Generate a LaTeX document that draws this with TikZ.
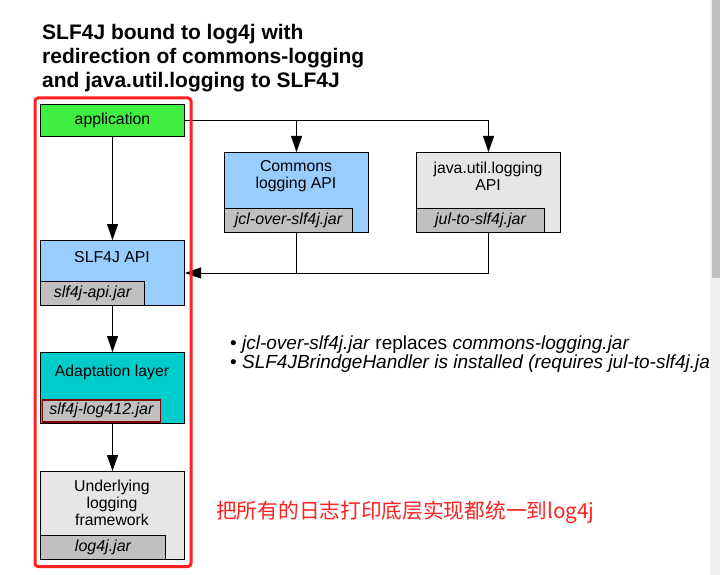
\documentclass[tikz,border=0pt]{standalone}
\usepackage{fontspec}
\setmainfont{Liberation Sans}
\newfontfamily\cjk{Noto Sans CJK SC}
\usetikzlibrary{arrows.meta}
\definecolor{appgreen}{RGB}{64,238,64}
\definecolor{apiblue}{RGB}{153,204,255}
\definecolor{adaptteal}{RGB}{0,204,204}
\definecolor{boxgray}{RGB}{230,230,230}
\definecolor{jargray}{RGB}{192,192,192}
\definecolor{framered}{RGB}{255,32,32}
\definecolor{darkred}{RGB}{128,0,0}
\definecolor{tracktone}{RGB}{240,240,240}
\definecolor{thumbtone}{RGB}{192,192,192}
\begin{document}
\begin{tikzpicture}[x=1pt,y=-1pt,
  box/.style={draw=black, line width=1pt, inner sep=0pt, anchor=north west},
  jar/.style={draw=black, line width=1pt, fill=jargray, inner sep=0pt, anchor=south west,
    minimum height=24pt, font=\fontsize{16}{17}\selectfont\itshape},
  lbl/.style={inner sep=0pt, anchor=north, align=center, font=\fontsize{15.8}{17}\selectfont},
  arr/.style={line width=1pt, -{Triangle[width=11pt,length=16pt]}},
  conn/.style={line width=1pt}]
\useasboundingbox (0,0) rectangle (720,575);

% title
\node[anchor=north west, inner sep=0pt, align=left,
  font=\fontsize{21}{24}\selectfont\bfseries] (title) at (42,24.5)
  {SLF4J bound to log4j with\\redirection of commons-logging\\and java.util.logging to SLF4J};

% left column
\node[box, fill=appgreen, minimum width=144pt, minimum height=32pt,
  font=\fontsize{15.8}{17}\selectfont] (app) at (40,104) {application};

\node[box, fill=apiblue, minimum width=144pt, minimum height=65pt] (api) at (40,240) {};
\node[lbl] (apil) at (112,251.5) {SLF4J API};
\node[jar, minimum width=104pt] (apijar) at (api.south west) {slf4j-api.jar};

\node[box, fill=adaptteal, minimum width=144pt, minimum height=71pt] (adapt) at (40,352) {};
\node[lbl] (adaptl) at (112,365) {Adaptation layer};
\node[jar, draw=darkred, line width=1.8pt, minimum width=118pt, minimum height=22pt] (adaptjar) at (41.5,422.5) {slf4j-log412.jar};

\node[box, fill=boxgray, minimum width=144pt, minimum height=88pt] (under) at (40,471) {};
\node[lbl] (underl) at (112,479.5) {Underlying\\logging\\framework};
\node[jar, minimum width=125pt] (underjar) at (under.south west) {log4j.jar};

% right boxes
\node[box, fill=apiblue, minimum width=144pt, minimum height=80pt] (jcl) at (224,152) {};
\node[lbl] (jcll) at (296,160.5) {Commons\\logging API};
\node[jar, minimum width=128pt] (jcljar) at (jcl.south west) {jcl-over-slf4j.jar};

\node[box, fill=boxgray, minimum width=144pt, minimum height=80pt] (jul) at (416,152) {};
\node[lbl] (jull) at (488,161.5) {java.util.logging\\API};
\node[jar, minimum width=128pt] (juljar) at (jul.south west) {jul-to-slf4j.jar};

% connectors
\coordinate (split) at (jcl.north |- app.east);
\draw[arr] (app.east) -| (jul.north);
\draw[arr] (split) -- (jcl.north);
\draw[arr] (jul.south) |- (api.east);
\coordinate (merge) at (jcl.south |- api.east);
\draw[conn] (jcl.south) -- (merge);
\draw[arr] (app.south) -- (api.north);
\draw[arr] (api.south) -- (adapt.north);
\draw[arr] (adapt.south) -- (under.north);

% notes
\node[anchor=north west, inner sep=0pt, align=left,
  font=\fontsize{19}{19.5}\selectfont] (notes) at (230,335.5)
  {• \textit{jcl-over-slf4j.jar} replaces \textit{commons-logging.jar}\\
   • \textit{SLF4JBrindgeHandler is installed (requires jul-to-slf4j.jar}};

\node[anchor=west, inner sep=0pt, text=framered,
  font=\cjk\fontsize{20.7}{21}\selectfont] (cn) at (216,512)
  {把所有的日志打印底层实现都统一到log4j};

% red frame
\node[draw=framered, line width=3pt, rounded corners=3pt, inner sep=0pt,
  anchor=north west, minimum width=156pt, minimum height=468.5pt] (group) at (33.5,96.5) {};

% scrollbar
\fill[tracktone] (710,0) rectangle (720,575);
\fill[thumbtone] (712,0) rectangle (720,278);
\end{tikzpicture}
\end{document}
